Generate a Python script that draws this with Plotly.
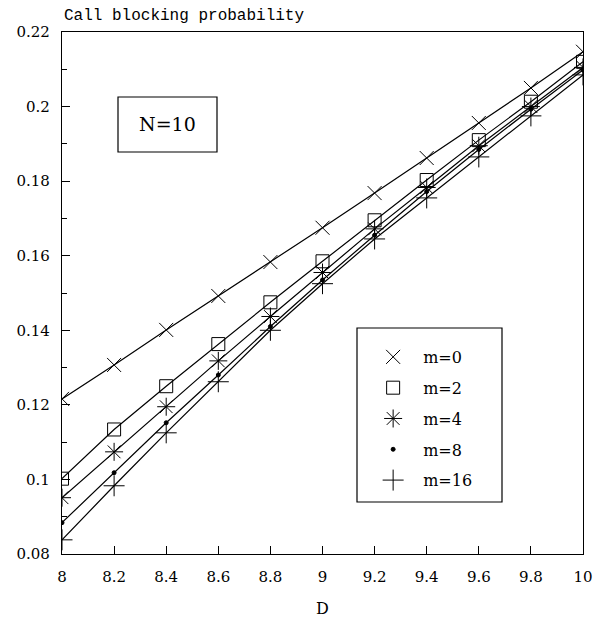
import plotly.graph_objects as go

D = [8.0, 8.2, 8.4, 8.6, 8.8, 9.0, 9.2, 9.4, 9.6, 9.8, 10.0]
m0 = [0.1216, 0.1307, 0.1401, 0.1492, 0.1583, 0.1675, 0.1768, 0.1862, 0.1956, 0.2050, 0.2147]
m2 = [0.1002, 0.1134, 0.1250, 0.1363, 0.1475, 0.1585, 0.1695, 0.1803, 0.1910, 0.2013, 0.2120]
m4 = [0.0951, 0.1074, 0.1195, 0.1318, 0.1437, 0.1555, 0.1672, 0.1783, 0.1895, 0.2000, 0.2105]
m8 = [0.0884, 0.1018, 0.1152, 0.1280, 0.1410, 0.1535, 0.1655, 0.1772, 0.1885, 0.1993, 0.2098]
m16 = [0.0838, 0.0983, 0.1125, 0.1262, 0.1400, 0.1525, 0.1645, 0.1755, 0.1865, 0.1975, 0.2085]

series_names = ["m=0", "m=2", "m=4", "m=8", "m=16"]
series_vals = [m0, m2, m4, m8, m16]
symbols = ["x-thin-open", "square-open", "asterisk-open", "circle", "cross-thin-open"]
sizes = [14, 13, 15, 4, 15]

xticks = [8, 8.2, 8.4, 8.6, 8.8, 9, 9.2, 9.4, 9.6, 9.8, 10]
xticktext = ["8", "8.2", "8.4", "8.6", "8.8", "9", "9.2", "9.4", "9.6", "9.8", "10"]
yticks = [0.08, 0.1, 0.12, 0.14, 0.16, 0.18, 0.2, 0.22]
yticktext = ["0.08", "0.1", "0.12", "0.14", "0.16", "0.18", "0.2", "0.22"]

fig = go.Figure()
for name, vals in zip(series_names, series_vals):
    fig.add_trace(go.Scatter(x=D, y=vals, mode="lines",
                             line=dict(color="black", width=1.2),
                             showlegend=False, hoverinfo="skip"))
for i, (name, vals) in enumerate(zip(series_names, series_vals)):
    fig.add_trace(go.Scatter(x=D, y=vals, mode="markers", name=name,
                             legendgroup=name,
                             marker=dict(symbol=symbols[i], size=sizes[i], color="black",
                                         line=dict(color="black", width=1))))

serif = "DejaVu Serif"
# plot area: 62..583 px horizontally, 32..554 px vertically (page body adds 8px)
fig.update_layout(
    width=587, height=614,
    margin=dict(l=54, r=12, t=24, b=68, autoexpand=False),
    plot_bgcolor="white", paper_bgcolor="white",
    font=dict(family=serif, size=15, color="black"),
    xaxis=dict(range=[8, 10], tickvals=xticks, ticktext=xticktext, automargin=False,
               showgrid=False, zeroline=False, showline=True, linecolor="black",
               linewidth=1.2, mirror=True, ticks="inside", ticklen=8, tickcolor="black",
               tickfont=dict(family=serif, size=15), ticklabelstandoff=9),
    yaxis=dict(range=[0.08, 0.22], tickvals=yticks, ticktext=yticktext, automargin=False,
               showgrid=False, zeroline=False, showline=True, linecolor="black",
               linewidth=1.2, mirror=True, ticks="inside", ticklen=8, tickcolor="black",
               tickfont=dict(family=serif, size=15), ticklabelstandoff=8,
               minor=dict(dtick=0.01, ticks="inside", ticklen=5, tickcolor="black")),
    legend=dict(x=0.578, y=0.41, xanchor="left", yanchor="top",
                borderwidth=0, bgcolor="rgba(0,0,0,0)",
                font=dict(family=serif, size=16), tracegroupgap=7,
                itemsizing="trace", itemwidth=50),
    showlegend=True,
)

# legend frame (paper coords of the 521x522 plot area)
fig.add_shape(type="rect", xref="paper", yref="paper",
              x0=(357 - 62) / 521, x1=(502 - 62) / 521,
              y0=(554 - 502) / 522, y1=(554 - 328) / 522,
              line=dict(color="black", width=1.2), fillcolor="white", layer="below")

fig.add_annotation(xref="paper", yref="paper", x=0.0, y=1.0, yshift=5,
                   xanchor="left", yanchor="bottom", showarrow=False,
                   text="Call blocking probability",
                   font=dict(family="Liberation Mono", size=16, color="black"))

fig.add_shape(type="rect", xref="paper", yref="paper",
              x0=(118 - 62) / 521, x1=(217 - 62) / 521,
              y0=(554 - 152) / 522, y1=(554 - 97) / 522,
              line=dict(color="black", width=1.2), fillcolor="white", layer="below")
fig.add_annotation(xref="paper", yref="paper",
                   x=(167.5 - 62) / 521, y=(554 - 124) / 522,
                   xanchor="center", yanchor="middle", showarrow=False,
                   text="N=10", font=dict(family=serif, size=19, color="black"))

fig.add_annotation(xref="paper", yref="paper", x=0.5, y=(554 - 608) / 522,
                   xanchor="center", yanchor="middle", showarrow=False,
                   text="D", font=dict(family=serif, size=16, color="black"))

fig.write_html("out.html")
